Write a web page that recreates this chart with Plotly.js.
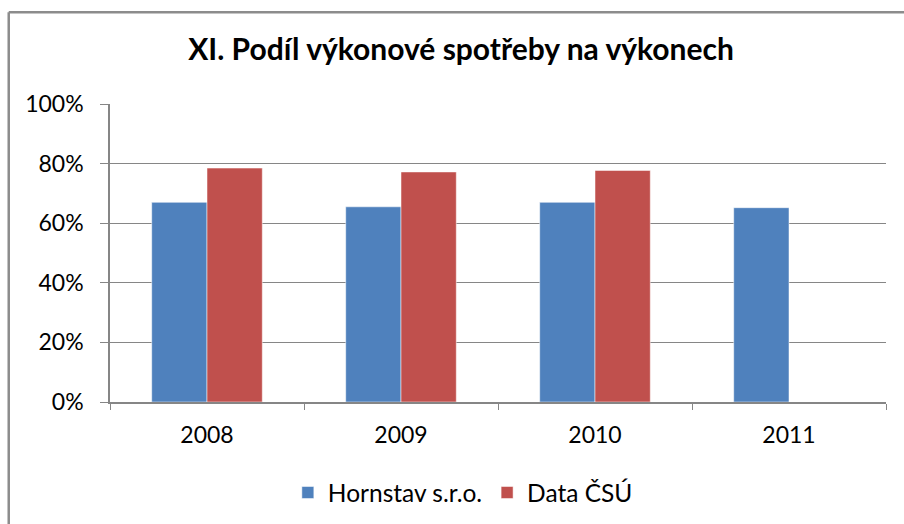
<!DOCTYPE html>
<html>
<head>
<meta charset="utf-8">
<script src="https://cdn.plot.ly/plotly-3.0.1.min.js"></script>
<style>html,body{margin:0;padding:0;background:#fff;}#chart{width:904px;height:524px;}</style>
</head>
<body>
<div id="chart"></div>
<script>
var years = ['2008', '2009', '2010', '2011'];
var hornstav = [0.670, 0.655, 0.670, 0.652];
var csu = [0.785, 0.772, 0.777, null];
var seriesNames = ['Hornstav s.r.o.', 'Data ČSÚ'];
var yTicks = [0, 0.2, 0.4, 0.6, 0.8, 1.0];
var yTickText = ['0%', '20%', '40%', '60%', '80%', '100%'];

var fontFam = 'Lato, "Open Sans", sans-serif';

var traces = [
  {type: 'bar', name: seriesNames[0], x: years, y: hornstav,
   marker: {color: '#4F81BD', line: {color: 'rgba(255,255,255,0.5)', width: 1}}},
  {type: 'bar', name: seriesNames[1], x: years, y: csu,
   marker: {color: '#C0504D', line: {color: 'rgba(255,255,255,0.5)', width: 1}}}
];

var layout = {
  width: 904, height: 524,
  margin: {l: 110, r: 18, t: 104, b: 122},
  paper_bgcolor: '#fff', plot_bgcolor: '#fff',
  title: {text: 'XI. Podíl výkonové spotřeby na výkonech',
          font: {family: fontFam, size: 30, color: '#000', weight: 'bold'},
          x: 0.51, xanchor: 'center', y: 0.905, yanchor: 'middle'},
  barmode: 'group', bargap: 0.43, bargroupgap: 0,
  showlegend: true,
  legend: {orientation: 'h', x: 0.512, xanchor: 'center', xref: 'container',
           y: 0.06, yref: 'container', yanchor: 'middle',
           font: {family: fontFam, size: 24.5, color: '#000'},
           itemwidth: 30, traceorder: 'normal'},
  xaxis: {type: 'category', showline: true, linecolor: '#868686', linewidth: 1.5,
          ticks: 'outside', tickson: 'boundaries', ticklen: 6, tickcolor: '#868686',
          ticklabelstandoff: 12,
          tickfont: {family: fontFam, size: 23, color: '#000'}, showgrid: false},
  yaxis: {range: [0, 1.0], tickvals: yTicks, ticktext: yTickText,
          showline: true, linecolor: '#868686', linewidth: 1.5,
          ticks: 'outside', ticklen: 8, tickcolor: '#868686',
          ticklabelstandoff: 12,
          showgrid: true, gridcolor: '#868686', gridwidth: 1.2,
          zeroline: false,
          tickfont: {family: fontFam, size: 23, color: '#000'}},
  shapes: [
    {type: 'line', xref: 'paper', yref: 'paper', x0: -0.1305, x1: 1.1, y0: 1.3077, y1: 1.3077,
     line: {color: '#8c8c8c', width: 2.5}},
    {type: 'line', xref: 'paper', yref: 'paper', x0: -0.1305, x1: -0.1305, y0: 1.3077, y1: -0.5,
     line: {color: '#8c8c8c', width: 2.5}}
  ]
};

Plotly.newPlot('chart', traces, layout, {displayModeBar: false});
</script>
</body>
</html>
